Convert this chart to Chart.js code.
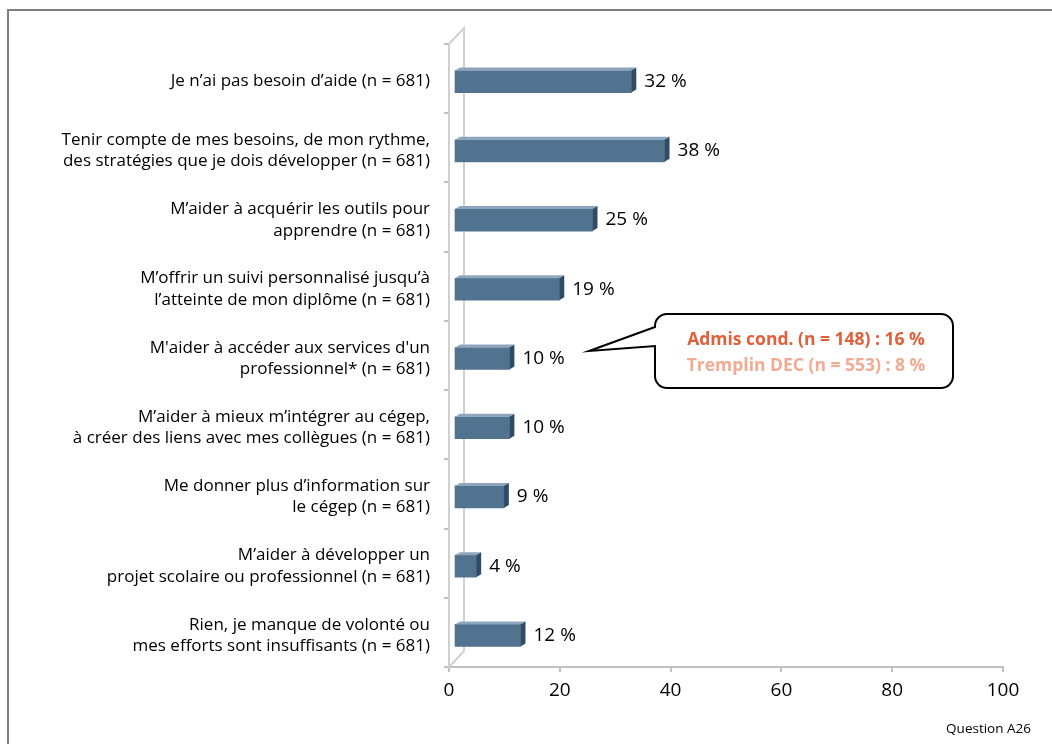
<!DOCTYPE html>
<html>
<head>
<meta charset="utf-8">
<script src="https://cdn.jsdelivr.net/npm/chart.js@4.4.0/dist/chart.umd.min.js"></script>
<style>
  html, body { margin: 0; padding: 0; background: #fff; }
  #wrap { position: relative; width: 1052px; height: 744px; }
</style>
</head>
<body>
<div id="wrap"><canvas id="chart" width="1052" height="744"></canvas></div>
<script>
// Chart data
const categories = [
    ['Je n\u2019ai pas besoin d\u2019aide (n = 681)'],
    ['Tenir compte de mes besoins, de mon rythme,', 'des stratégies que je dois développer (n = 681)'],
    ['M\u2019aider à acquérir les outils pour', 'apprendre (n = 681)'],
    ['M\u2019offrir un suivi personnalisé jusqu\u2019à', 'l\u2019atteinte de mon diplôme (n = 681)'],
    ['M\'aider à accéder aux services d\'un', 'professionnel* (n = 681)'],
    ['M\u2019aider à mieux m\u2019intégrer au cégep,', 'à créer des liens avec mes collègues (n = 681)'],
    ['Me donner plus d\u2019information sur', 'le cégep (n = 681)'],
    ['M\u2019aider à développer un', 'projet scolaire ou professionnel (n = 681)'],
    ['Rien, je manque de volonté ou', 'mes efforts sont insuffisants (n = 681)']
];
const percentages = [32, 38, 25, 19, 10, 10, 9, 4, 12];
const xTicks = [0, 20, 40, 60, 80, 100];
const calloutLines = ['Admis cond. (n = 148) : 16 %', 'Tremplin DEC (n = 553) : 8 %'];

const FONT = '"Open Sans", Lato, sans-serif';
const BAR = '#52738f';
const SHIFT_X = 5; // bars sit a little inside the 3D wall
const SHIFT_Y = 3;

// Frame, 3D wall and bar sides
const decorPlugin = {
    id: 'decor',
    beforeDraw(chart) {
        const c = chart.ctx;
        const a = chart.chartArea;
        c.save();
        // outer frame
        c.strokeStyle = '#7f7f7f';
        c.lineWidth = 2;
        c.beginPath();
        c.moveTo(8, 760);
        c.lineTo(8, 10);
        c.lineTo(1060, 10);
        c.stroke();
        // back wall
        c.strokeStyle = '#d0d0d0';
        c.lineWidth = 2;
        c.beginPath();
        c.moveTo(a.left, a.top);
        c.lineTo(a.left + 15, a.top - 16);
        c.lineTo(a.left + 15, a.bottom - 16);
        c.lineTo(a.left, a.bottom);
        c.stroke();
        c.restore();
    },
    beforeDatasetsDraw(chart) {
        chart.ctx.save();
        chart.ctx.translate(SHIFT_X, SHIFT_Y);
    },
    afterDatasetsDraw(chart) {
        const c = chart.ctx;
        const meta = chart.getDatasetMeta(0);
        meta.data.forEach((bar, i) => {
            const top = bar.y - bar.height / 2;
            const bot = bar.y + bar.height / 2;
            const d = 5;
            // top face
            c.fillStyle = '#8ea6bd';
            c.beginPath();
            c.moveTo(bar.base, top);
            c.lineTo(bar.base + d, top - 3);
            c.lineTo(bar.x + d, top - 3);
            c.lineTo(bar.x, top);
            c.closePath();
            c.fill();
            // side face
            c.fillStyle = '#2f4b66';
            c.beginPath();
            c.moveTo(bar.x, top);
            c.lineTo(bar.x + d, top - 3);
            c.lineTo(bar.x + d, bot - 3);
            c.lineTo(bar.x, bot);
            c.closePath();
            c.fill();
            // value label
            c.fillStyle = '#000';
            c.font = '19px ' + FONT;
            c.textAlign = 'left';
            c.textBaseline = 'middle';
            c.fillText(percentages[i] + ' %', bar.x + 13, bar.y);
        });
        c.restore();
    },
    afterDraw(chart) {
        const c = chart.ctx;
        c.save();
        // callout box
        const x0 = 655, y0 = 314, x1 = 953, y1 = 388, r = 12;
        c.beginPath();
        c.moveTo(x0 + r, y0);
        c.lineTo(x1 - r, y0);
        c.arcTo(x1, y0, x1, y0 + r, r);
        c.lineTo(x1, y1 - r);
        c.arcTo(x1, y1, x1 - r, y1, r);
        c.lineTo(x0 + r, y1);
        c.arcTo(x0, y1, x0, y1 - r, r);
        c.lineTo(x0, 346);
        c.lineTo(589, 351);
        c.lineTo(655, 327);
        c.arcTo(x0, y0, x0 + r, y0, r);
        c.closePath();
        c.fillStyle = '#fff';
        c.fill();
        c.strokeStyle = '#000';
        c.lineWidth = 2;
        c.stroke();
        c.font = 'bold 17.5px ' + FONT;
        c.textAlign = 'center';
        c.textBaseline = 'middle';
        c.fillStyle = '#e0603a';
        c.fillText(calloutLines[0], 806, 340);
        c.fillStyle = '#f2aa92';
        c.fillText(calloutLines[1], 806, 366);
        // footer
        c.fillStyle = '#000';
        c.font = '13.5px ' + FONT;
        c.textAlign = 'right';
        c.fillText('Question A26', 1031, 729);
        c.restore();
    }
};

document.addEventListener('DOMContentLoaded', () => {
    const ctx = document.getElementById('chart').getContext('2d');
    new Chart(ctx, {
        type: 'bar',
        data: {
            labels: categories,
            datasets: [{
                data: percentages,
                backgroundColor: BAR,
                borderWidth: 0,
                barThickness: 22
            }]
        },
        options: {
            indexAxis: 'y',
            responsive: false,
            animation: false,
            layout: { padding: { top: 44, right: 49, bottom: 0, left: 0 } },
            plugins: {
                legend: { display: false },
                tooltip: { enabled: false }
            },
            scales: {
                x: {
                    min: 0,
                    max: 100,
                    afterBuildTicks: (scale) => { scale.ticks = xTicks.map(v => ({ value: v })); },
                    afterFit: (scale) => { scale.height = 77; },
                    grid: { drawOnChartArea: false, color: '#c0c0c0', tickLength: 5, lineWidth: 2 },
                    border: { color: '#c0c0c0', width: 2 },
                    ticks: { color: '#000', padding: 7, font: { family: FONT, size: 19 } }
                },
                y: {
                    afterFit: (scale) => { scale.width = 449; },
                    grid: { drawOnChartArea: false, color: '#c0c0c0', tickLength: 5, lineWidth: 2, offset: true },
                    border: { color: '#d0d0d0', width: 2 },
                    ticks: { color: '#000', padding: 14, labelOffset: 3, font: { family: FONT, size: 17, lineHeight: 1.25 } }
                }
            }
        },
        plugins: [decorPlugin]
    });
});
</script>
</body>
</html>
